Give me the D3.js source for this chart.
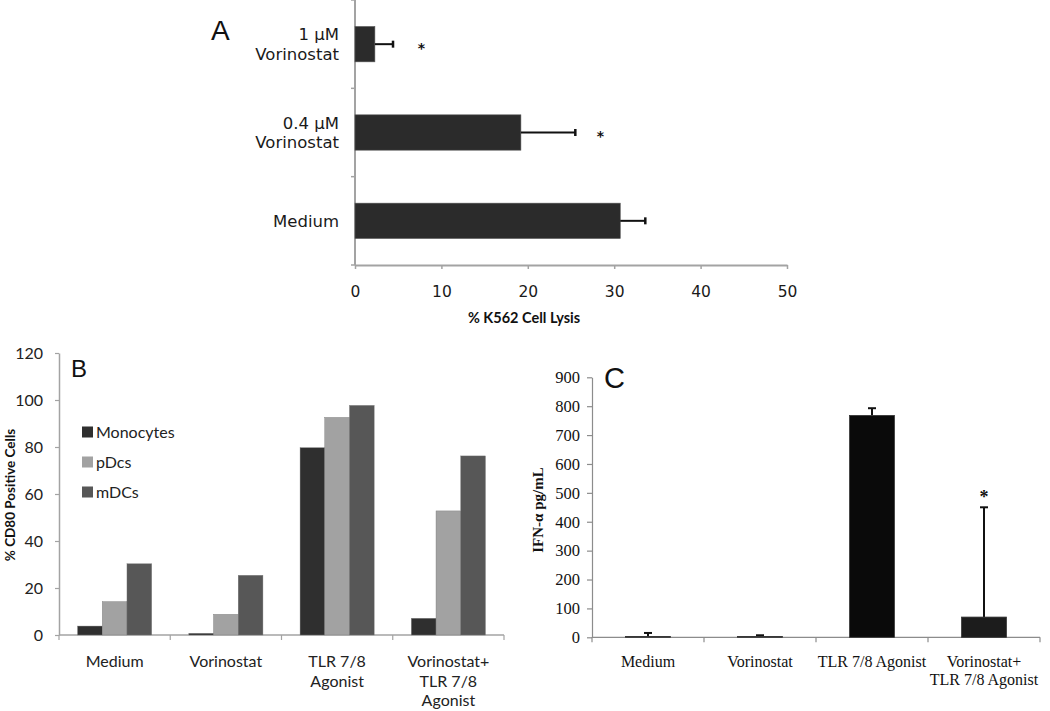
<!DOCTYPE html>
<html>
<head>
<meta charset="utf-8">
<script src="https://cdnjs.cloudflare.com/ajax/libs/d3/7.8.5/d3.min.js"></script>
<style>
  html, body { margin: 0; padding: 0; background: #fff; }
  svg { display: block; }
</style>
</head>
<body>
<svg id="chart" width="1050" height="711"></svg>
<script>
// ---------------- DATA ----------------
// Panel A: % K562 cell lysis (horizontal bars, top to bottom)
const catsA = ["1 µM\nVorinostat", "0.4 µM\nVorinostat", "Medium"];
const valuesA = [2.3, 19.2, 30.7];
const errHighA = [4.4, 25.5, 33.6];
const starsA = [7.7, 28.4, null];
const ticksA = [0, 10, 20, 30, 40, 50];

// Panel B: % CD80 positive cells
const catsB = ["Medium", "Vorinostat", "TLR 7/8\nAgonist", "Vorinostat+\nTLR 7/8\nAgonist"];
const seriesB = ["Monocytes", "pDcs", "mDCs"];
const monocytes = [3.8, 0.7, 79.7, 7.1];
const pDcs = [14.2, 8.8, 92.6, 52.8];
const mDCs = [30.3, 25.4, 97.7, 76.2];
const ticksB = [0, 20, 40, 60, 80, 100, 120];

// Panel C: IFN-α pg/mL
const catsC = ["Medium", "Vorinostat", "TLR 7/8 Agonist", "Vorinostat+\nTLR 7/8 Agonist"];
const valuesC = [3, 3, 768, 70];
const errHighC = [15, 7, 793, 450];
const starsC = [null, null, null, 503];
const ticksC = [0, 100, 200, 300, 400, 500, 600, 700, 800, 900];

// ---------------- DRAW ----------------
const svg = d3.select("#chart");
const axisGray = "#a3a3a3";

function multiLine(sel, text, x, y0, lh) {
  const lines = text.split("\n");
  lines.forEach((l, i) => {
    sel.append("tspan").attr("x", x).attr("y", y0 + i * lh).text(l);
  });
}

// ===== Panel A =====
const gA = svg.append("g");
const xA = d3.scaleLinear().domain([0, 50]).range([355, 787]);
const yA = d3.scaleBand().domain(catsA).range([0, 265]);
const bwA = yA.bandwidth();

// x axis
const axA = gA.append("g").attr("transform", "translate(0,265)")
  .call(d3.axisBottom(xA).tickValues(ticksA).tickSize(4).tickSizeOuter(0).tickPadding(17));
axA.select(".domain").attr("stroke", axisGray).attr("stroke-width", 2);
axA.selectAll(".tick line").attr("stroke", axisGray).attr("stroke-width", 1.5);
axA.selectAll(".tick text").attr("font-family", "DejaVu Sans, Verdana, sans-serif")
  .attr("font-size", 15.5).attr("fill", "#1a1a1a");

// y axis line and band-boundary ticks
gA.append("line").attr("x1", xA(0)).attr("x2", xA(0)).attr("y1", yA.range()[0]).attr("y2", yA.range()[1])
  .attr("stroke", axisGray).attr("stroke-width", 2);
const boundsA = catsA.map(c => yA(c)).concat([yA.range()[1]]);
gA.selectAll(".ytickA").data(boundsA).join("line")
  .attr("x1", xA(0) - 4).attr("x2", xA(0)).attr("y1", d => d).attr("y2", d => d)
  .attr("stroke", axisGray).attr("stroke-width", 1.5);

// bars
gA.selectAll(".barA").data(catsA).join("rect")
  .attr("x", xA(0))
  .attr("y", c => yA(c) + bwA * 0.3)
  .attr("width", (c, i) => xA(valuesA[i]) - xA(0))
  .attr("height", bwA * 0.4)
  .attr("fill", "#2b2b2b").attr("stroke", "#555").attr("stroke-width", 0.6);

// error bars
catsA.forEach((c, i) => {
  const cy = yA(c) + bwA / 2;
  gA.append("line").attr("x1", xA(valuesA[i])).attr("x2", xA(errHighA[i])).attr("y1", cy).attr("y2", cy)
    .attr("stroke", "#111").attr("stroke-width", 2);
  gA.append("line").attr("x1", xA(errHighA[i])).attr("x2", xA(errHighA[i])).attr("y1", cy - 3.5).attr("y2", cy + 3.5)
    .attr("stroke", "#111").attr("stroke-width", 2.5);
  if (starsA[i] != null) {
    gA.append("text").attr("x", xA(starsA[i])).attr("y", cy).attr("dy", "0.62em")
      .attr("text-anchor", "middle").attr("font-family", "DejaVu Sans, sans-serif")
      .attr("font-weight", "bold").attr("font-size", 14).attr("fill", "#111").text("*");
  }
  // category label
  const lines = c.split("\n");
  const lh = 19.5;
  const t = gA.append("text").attr("text-anchor", "end")
    .attr("font-family", "DejaVu Sans, Verdana, sans-serif").attr("font-size", 16.5).attr("fill", "#1a1a1a");
  const y0 = cy - (lines.length - 1) * lh / 2 + 6;
  multiLine(t, c, 339, y0, lh);
});

gA.append("text").attr("x", 524).attr("y", 323).attr("text-anchor", "middle")
  .attr("font-family", "Lato, Open Sans, sans-serif").attr("font-weight", "bold")
  .attr("font-size", 14.5).attr("fill", "#111").text("% K562 Cell Lysis");
gA.append("text").attr("x", 211).attr("y", 40).attr("font-family", "Liberation Sans, Arial, sans-serif")
  .attr("font-size", 28).attr("fill", "#111").text("A");

// ===== Panel B =====
const gB = svg.append("g");
const xB = d3.scaleBand().domain(catsB).range([59, 504]);
const bwB = xB.bandwidth();
const xSubB = d3.scaleBand().domain(seriesB).range([bwB * 0.167, bwB * 0.833]);
const yB = d3.scaleLinear().domain([0, 120]).range([635, 353]);
const colorB = d3.scaleOrdinal().domain(seriesB).range(["#2f2f2f", "#a2a2a2", "#575757"]);
const dataB = { "Monocytes": monocytes, "pDcs": pDcs, "mDCs": mDCs };

const ayB = gB.append("g").attr("transform", "translate(59,0)")
  .call(d3.axisLeft(yB).tickValues(ticksB).tickSize(4).tickSizeOuter(0).tickPadding(12));
ayB.select(".domain").attr("stroke", axisGray).attr("stroke-width", 1.5);
ayB.selectAll(".tick line").attr("stroke", axisGray).attr("stroke-width", 1.2);
ayB.selectAll(".tick text").attr("font-family", "Lato, Open Sans, sans-serif")
  .attr("font-size", 16).attr("fill", "#222");

gB.append("line").attr("x1", 59).attr("x2", 504).attr("y1", yB(0)).attr("y2", yB(0))
  .attr("stroke", axisGray).attr("stroke-width", 1.5);
const boundsB = catsB.map(c => xB(c)).concat([504]);
gB.selectAll(".xtickB").data(boundsB).join("line")
  .attr("x1", d => d).attr("x2", d => d).attr("y1", yB(0)).attr("y2", yB(0) + 5)
  .attr("stroke", axisGray).attr("stroke-width", 1.2);

seriesB.forEach(s => {
  gB.selectAll(".bar-" + s).data(catsB).join("rect")
    .attr("x", c => xB(c) + xSubB(s))
    .attr("y", (c, i) => yB(dataB[s][i]))
    .attr("width", xSubB.bandwidth())
    .attr("height", (c, i) => yB(0) - yB(dataB[s][i]))
    .attr("fill", colorB(s)).attr("stroke", "#777").attr("stroke-width", 0.4);
});

catsB.forEach(c => {
  const t = gB.append("text").attr("text-anchor", "middle")
    .attr("font-family", "Lato, Open Sans, sans-serif").attr("font-size", 16).attr("fill", "#222");
  multiLine(t, c, xB(c) + bwB / 2, 667, 19.5);
});

// legend
seriesB.forEach((s, i) => {
  const ly = 432 + i * 30;
  gB.append("rect").attr("x", 82).attr("y", ly - 5.5).attr("width", 11).attr("height", 11).attr("fill", colorB(s));
  gB.append("text").attr("x", 96).attr("y", ly + 5.5).attr("font-family", "Lato, Open Sans, sans-serif")
    .attr("font-size", 16).attr("fill", "#222").text(s);
});

gB.append("text").attr("transform", "translate(15,495) rotate(-90)").attr("text-anchor", "middle")
  .attr("font-family", "Lato, Open Sans, sans-serif").attr("font-weight", "bold")
  .attr("font-size", 13.5).attr("fill", "#111").text("% CD80 Positive Cells");
gB.append("text").attr("x", 71).attr("y", 377).attr("font-family", "Liberation Sans, Arial, sans-serif")
  .attr("font-size", 24).attr("fill", "#111").text("B");

// ===== Panel C =====
const gC = svg.append("g");
const xC = d3.scaleBand().domain(catsC).range([592, 1040]);
const bwC = xC.bandwidth();
const yC = d3.scaleLinear().domain([0, 900]).range([637.3, 377.3]);
const cAxis = "#8c8c8c";

const ayC = gC.append("g").attr("transform", "translate(592,0)")
  .call(d3.axisLeft(yC).tickValues(ticksC).tickSize(5).tickSizeOuter(0).tickPadding(7));
ayC.select(".domain").attr("stroke", cAxis).attr("stroke-width", 1.2);
ayC.selectAll(".tick line").attr("stroke", cAxis).attr("stroke-width", 1.2);
ayC.selectAll(".tick text").attr("font-family", "Liberation Serif, Times New Roman, serif")
  .attr("font-size", 16.5).attr("fill", "#111");

gC.append("line").attr("x1", 592).attr("x2", 1040).attr("y1", yC(0)).attr("y2", yC(0))
  .attr("stroke", cAxis).attr("stroke-width", 1.2);
const boundsC = catsC.map(c => xC(c)).concat([1040]);
gC.selectAll(".xtickC").data(boundsC).join("line")
  .attr("x1", d => d).attr("x2", d => d).attr("y1", yC(0)).attr("y2", yC(0) + 5)
  .attr("stroke", cAxis).attr("stroke-width", 1.2);

const barWC = bwC * 0.4;
catsC.forEach((c, i) => {
  const cx = xC(c) + bwC / 2;
  // error bar (upper only)
  gC.append("line").attr("x1", cx).attr("x2", cx).attr("y1", yC(valuesC[i])).attr("y2", yC(errHighC[i]))
    .attr("stroke", "#111").attr("stroke-width", 2);
  gC.append("line").attr("x1", cx - 4).attr("x2", cx + 4).attr("y1", yC(errHighC[i])).attr("y2", yC(errHighC[i]))
    .attr("stroke", "#111").attr("stroke-width", 2);
});
gC.selectAll(".barC").data(catsC).join("rect")
  .attr("x", c => xC(c) + bwC / 2 - barWC / 2)
  .attr("y", (c, i) => yC(valuesC[i]))
  .attr("width", barWC)
  .attr("height", (c, i) => yC(0) - yC(valuesC[i]))
  .attr("fill", (c, i) => i === 2 ? "#0a0a0a" : "#1c1c1c").attr("stroke", "#333").attr("stroke-width", 0.8);

catsC.forEach((c, i) => {
  const cx = xC(c) + bwC / 2;
  if (starsC[i] != null) {
    gC.append("text").attr("x", cx).attr("y", yC(starsC[i])).attr("dy", "0.6em")
      .attr("text-anchor", "middle").attr("font-family", "Liberation Serif, serif")
      .attr("font-weight", "bold").attr("font-size", 18).attr("fill", "#111").text("*");
  }
  const t = gC.append("text").attr("text-anchor", "middle")
    .attr("font-family", "Liberation Serif, Times New Roman, serif").attr("font-size", 16).attr("fill", "#111");
  multiLine(t, c, cx, 667, 18);
});

gC.append("text").attr("transform", "translate(543,510) rotate(-90)").attr("text-anchor", "middle")
  .attr("font-family", "Liberation Serif, Times New Roman, serif").attr("font-weight", "bold")
  .attr("font-size", 15).attr("fill", "#111").text("IFN-α pg/mL");
gC.append("text").attr("x", 604).attr("y", 388).attr("font-family", "Liberation Sans, Arial, sans-serif")
  .attr("font-size", 29).attr("fill", "#111").text("C");
</script>
</body>
</html>
